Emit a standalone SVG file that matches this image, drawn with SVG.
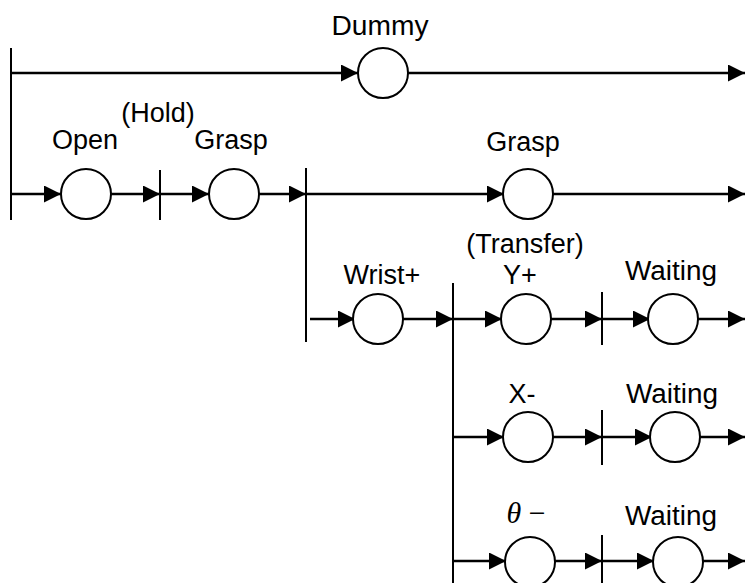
<svg xmlns="http://www.w3.org/2000/svg" width="745" height="583" viewBox="0 0 745 583">
<style>
.ln{stroke:#000;stroke-width:2.6;fill:none}
.ar{stroke:#000;stroke-width:2.6;fill:none;marker-end:url(#ah)}
.bar{stroke:#000;stroke-width:2;fill:none}
.nd{stroke:#000;stroke-width:2;fill:#fff}
.lb{font-family:"Liberation Sans",Arial,sans-serif;font-size:27px;fill:#000;text-anchor:middle}
.th{font-family:"Liberation Serif","Times New Roman",serif;font-size:30px;fill:#000;text-anchor:middle}
</style>
<defs>
<marker id="ah" markerUnits="userSpaceOnUse" markerWidth="18" markerHeight="18" refX="17" refY="8.5" orient="auto" viewBox="0 0 18 18">
<path d="M0,0 L17,8.5 L0,17 Z" fill="#000"/>
</marker>
</defs>
<rect width="745" height="583" fill="#fff"/>
<g id="connectors">
<line class="bar" x1="11" y1="48" x2="11" y2="220"/>
<line class="bar" x1="160" y1="170" x2="160" y2="220"/>
<line class="bar" x1="306" y1="168" x2="306" y2="342"/>
<line class="bar" x1="453" y1="283" x2="453" y2="583"/>
<line class="bar" x1="602" y1="292" x2="602" y2="345"/>
<line class="bar" x1="602" y1="410" x2="602" y2="465"/>
<line class="bar" x1="602" y1="535" x2="602" y2="583"/>
<line class="ar" x1="11" y1="73" x2="358" y2="73"/>
<line class="ar" x1="408" y1="73" x2="745" y2="73"/>
<line class="ar" x1="11" y1="194" x2="61" y2="194"/>
<line class="ar" x1="111" y1="194" x2="160" y2="194"/>
<line class="ar" x1="160" y1="194" x2="209" y2="194"/>
<line class="ar" x1="259" y1="194" x2="306" y2="194"/>
<line class="ar" x1="306" y1="194" x2="504" y2="194"/>
<line class="ar" x1="553" y1="194" x2="745" y2="194"/>
<line class="ar" x1="310" y1="319" x2="355" y2="319"/>
<line class="ar" x1="403" y1="319" x2="453" y2="319"/>
<line class="ar" x1="453" y1="319" x2="502" y2="319"/>
<line class="ar" x1="551" y1="319" x2="602" y2="319"/>
<line class="ar" x1="602" y1="319" x2="650" y2="319"/>
<line class="ar" x1="698" y1="319" x2="745" y2="319"/>
<line class="ar" x1="453" y1="437" x2="504" y2="437"/>
<line class="ar" x1="553" y1="437" x2="602" y2="437"/>
<line class="ar" x1="602" y1="437" x2="652" y2="437"/>
<line class="ar" x1="700" y1="437" x2="745" y2="437"/>
<line class="ar" x1="453" y1="561" x2="506" y2="561"/>
<line class="ar" x1="555" y1="561" x2="602" y2="561"/>
<line class="ar" x1="602" y1="561" x2="654" y2="561"/>
<line class="ar" x1="703" y1="561" x2="745" y2="561"/>
</g>
<g id="dummy"><circle class="nd" cx="383" cy="73" r="25"/><text class="lb" x="380" y="35" textLength="97" lengthAdjust="spacingAndGlyphs">Dummy</text></g>
<g id="hold"><text class="lb" x="158" y="122">(Hold)</text></g>
<g id="open"><circle class="nd" cx="86" cy="194" r="25"/><text class="lb" x="85" y="149">Open</text></g>
<g id="grasp1"><circle class="nd" cx="234" cy="194" r="25"/><text class="lb" x="231" y="149">Grasp</text></g>
<g id="grasp2"><circle class="nd" cx="528" cy="194" r="25"/><text class="lb" x="523" y="151">Grasp</text></g>
<g id="wrist"><circle class="nd" cx="378" cy="319" r="25"/><text class="lb" x="382" y="284">Wrist+</text></g>
<g id="transfer"><text class="lb" x="525" y="253">(Transfer)</text></g>
<g id="yplus"><circle class="nd" cx="526" cy="319" r="25"/><text class="lb" x="520" y="284">Y+</text></g>
<g id="waiting1"><circle class="nd" cx="673" cy="319" r="25"/><text class="lb" x="671" y="280" textLength="92" lengthAdjust="spacingAndGlyphs">Waiting</text></g>
<g id="xminus"><circle class="nd" cx="528" cy="437" r="25"/><text class="lb" x="522" y="403">X-</text></g>
<g id="waiting2"><circle class="nd" cx="675" cy="437" r="25"/><text class="lb" x="672" y="403" textLength="92" lengthAdjust="spacingAndGlyphs">Waiting</text></g>
<g id="theta"><circle class="nd" cx="530" cy="562" r="25"/><text class="th" x="526" y="523"><tspan font-style="italic">θ</tspan> −</text></g>
<g id="waiting3"><circle class="nd" cx="678" cy="562" r="25"/><text class="lb" x="671" y="525" textLength="92" lengthAdjust="spacingAndGlyphs">Waiting</text></g>
</svg>
